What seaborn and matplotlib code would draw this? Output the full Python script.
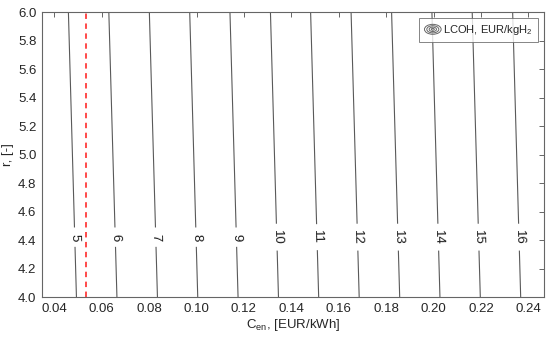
import numpy as np
import matplotlib
matplotlib.use("Agg")
import matplotlib.pyplot as plt
import seaborn as sns
from matplotlib.legend_handler import HandlerBase
from matplotlib.patches import Ellipse
from matplotlib.lines import Line2D

# electricity cost grid [EUR/kWh] and ratio r [-]
cen = [0.03, 0.05, 0.07, 0.09, 0.11, 0.13, 0.15, 0.17, 0.19, 0.21, 0.23, 0.25]
r_vals = [4.0, 5.0, 6.0]
# LCOH [EUR/kgH2], one row per r value
lcoh_r4 = [3.86, 5.04, 6.21, 7.38, 8.56, 9.73, 10.91, 12.08, 13.25, 14.43, 15.60, 16.78]
lcoh_r5 = [3.96, 5.14, 6.31, 7.48, 8.66, 9.83, 11.01, 12.18, 13.35, 14.53, 15.70, 16.88]
lcoh_r6 = [4.06, 5.24, 6.41, 7.58, 8.76, 9.93, 11.11, 12.28, 13.45, 14.63, 15.80, 16.98]
levels = [5, 6, 7, 8, 9, 10, 11, 12, 13, 14, 15, 16]
cen_ref = 0.0533
label_r = 4.42


class HandlerContour(HandlerBase):
    # small concentric ellipses as legend icon
    def create_artists(self, legend, orig_handle, xdescent, ydescent,
                       width, height, fontsize, trans):
        cx = width / 2 - xdescent
        cy = height / 2 - ydescent
        arts = []
        for k in (1.0, 0.72, 0.44, 0.18):
            arts.append(Ellipse((cx, cy), width * k, height * 1.0 * k,
                                fill=False, ec="0.4", lw=0.7, transform=trans))
        return arts


sns.set_theme(style="white")
plt.rcParams["font.family"] = ["Liberation Sans", "DejaVu Sans"]
plt.rcParams["mathtext.fontset"] = "custom"
plt.rcParams["mathtext.rm"] = "Liberation Sans"
plt.rcParams["mathtext.it"] = "Liberation Sans"

fig = plt.figure(figsize=(5.5, 3.44), dpi=100)
ax = fig.add_axes([0.0764, 0.1366, 0.9126, 0.8285])

X, Y = np.meshgrid(cen, r_vals)
Z = np.array([lcoh_r4, lcoh_r5, lcoh_r6])
cs = ax.contour(X, Y, Z, levels=levels, colors="0.35", linewidths=0.8)

# label positions: where each level crosses r = label_r
lab_row = np.array(lcoh_r4) + (label_r - 4.0) / 2.0 * (np.array(lcoh_r6) - np.array(lcoh_r4))
manual = [(np.interp(lv, lab_row, cen), label_r) for lv in levels]
ax.clabel(cs, fmt="%d", fontsize=9.5, colors="k", manual=manual, inline=True, inline_spacing=6)

ax.axvline(cen_ref, color="#ff3b3b", ls=(0, (3, 2.5)), lw=1.3)

ax.set_xlim(0.0348, 0.2466)
ax.set_ylim(4.0, 6.0)
ax.set_xticks(np.arange(0.04, 0.2401, 0.02))
ax.set_xticklabels([f"{v:.2f}" for v in np.arange(0.04, 0.2401, 0.02)])
ax.set_yticks(np.arange(4.0, 6.001, 0.2))
ax.set_yticklabels([f"{v:.1f}" for v in np.arange(4.0, 6.001, 0.2)])
ax.tick_params(direction="in", length=3.5, width=0.7, colors="0.4",
               labelcolor="0.15", labelsize=9.5, top=True, right=True, pad=4)
for s in ax.spines.values():
    s.set_color("0.4")
    s.set_linewidth(0.8)

ax.set_xlabel(r"C$_{\mathrm{en}}$, [EUR/kWh]", fontsize=9.5, color="0.15", labelpad=2)
ax.set_ylabel("r, [-]", fontsize=9.5, color="0.15", labelpad=3)

h = Line2D([], [])
leg = ax.legend([h], [r"LCOH, EUR/kgH$_{\mathrm{2}}$"], handler_map={Line2D: HandlerContour()},
                loc="upper right", fontsize=8, frameon=True, fancybox=False,
                edgecolor="0.4", handlelength=1.5, handleheight=1.0, handletextpad=0.2,
                borderpad=0.45, borderaxespad=0.55)
leg.get_frame().set_linewidth(0.7)

fig.savefig("out.png", dpi=100)
